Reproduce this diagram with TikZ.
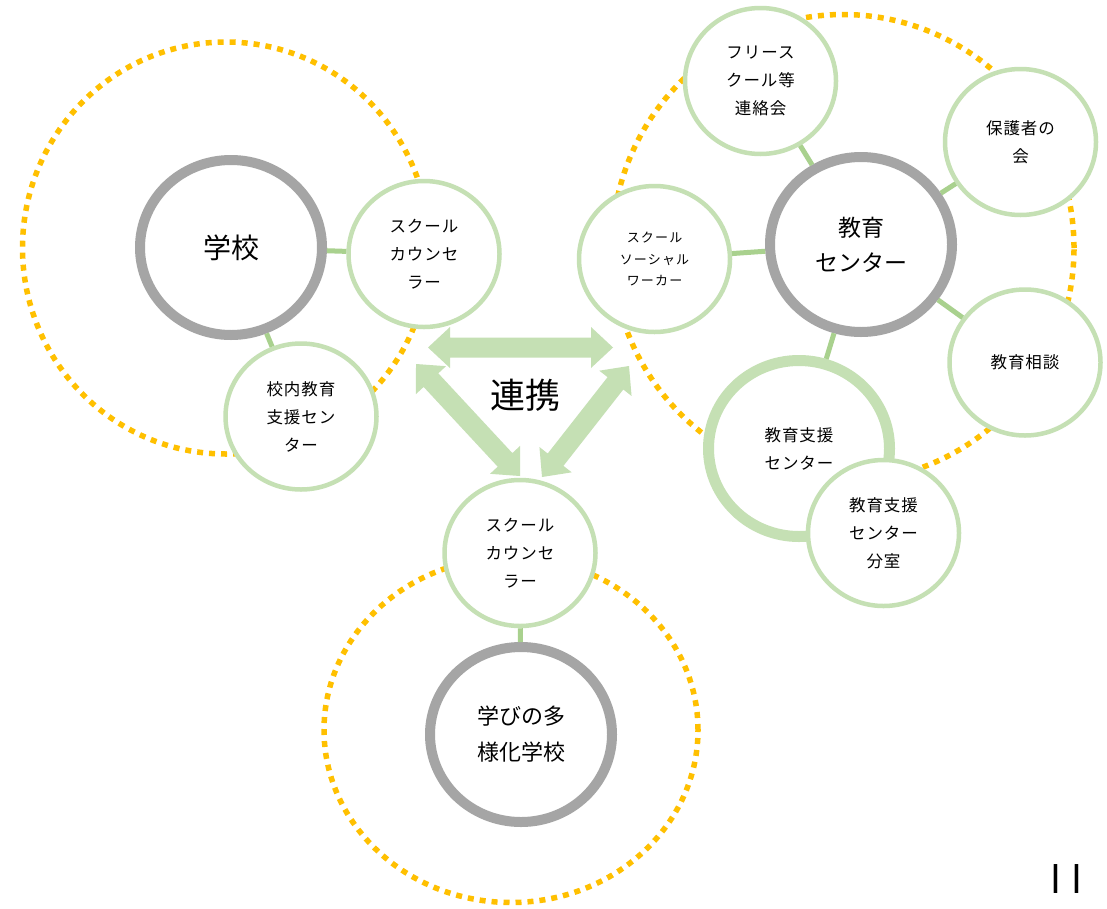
\documentclass[tikz,border=0pt]{standalone}
\usepackage{fontspec}
\setmainfont{Noto Sans CJK JP}
\newfontfamily\jpsp[LetterSpace=6]{Noto Sans CJK JP}
\newfontfamily\jpssw[LetterSpace=9]{Noto Sans CJK JP}
\newfontfamily\pagefont{Liberation Sans}
\usetikzlibrary{shapes.geometric,calc}
\pgfdeclarelayer{bg}
\pgfsetlayers{bg,main}
\definecolor{dotorange}{HTML}{FFC000}
\definecolor{ringgreen}{HTML}{C5E0B4}
\definecolor{linkgreen}{HTML}{A9D18E}
\definecolor{coregray}{HTML}{A5A5A5}
\newcommand{\dblarrow}[2]{%
  \coordinate (#1h) at ($(#1)!22pt!(#2)$);
  \coordinate (#2h) at ($(#2)!22pt!(#1)$);
  \fill[ringgreen] (#1)
    -- ($(#1h)!20.5pt!90:(#2)$) -- ($(#1h)!10pt!90:(#2)$)
    -- ($(#2h)!10pt!-90:(#1)$) -- ($(#2h)!20.5pt!-90:(#1)$)
    -- (#2)
    -- ($(#2h)!20.5pt!90:(#1)$) -- ($(#2h)!10pt!90:(#1)$)
    -- ($(#1h)!10pt!-90:(#2)$) -- ($(#1h)!20.5pt!-90:(#2)$)
    -- cycle;}
\begin{document}
\begin{tikzpicture}[x=1pt,y=-1pt,
  ring/.style={ellipse, draw=ringgreen, fill=white, line width=4.5pt, inner sep=0pt,
    minimum width=151pt, minimum height=146pt, align=center,
    font=\jpsp\fontsize{16.5}{28}\selectfont},
  core/.style={ellipse, draw=coregray, fill=white, line width=10pt, inner sep=0pt,
    minimum width=182pt, minimum height=175pt, align=center},
  zone/.style={ellipse, draw=dotorange, line width=5.5pt, dash pattern=on 6pt off 6pt,
    inner sep=0pt},
  link/.style={draw=linkgreen, line width=5pt}]
\useasboundingbox (0,0) rectangle (1107,908);
\begin{pgfonlayer}{bg}
  \fill[white] (0,0) rectangle (1107,908);
  \node[zone, minimum width=407pt, minimum height=412pt] (zoneL) at (226,248) {};
  \node[zone, minimum width=462pt, minimum height=467pt] (zoneR) at (843,248) {};
  \node[zone, minimum width=374pt, minimum height=345pt] (zoneB) at (511,730) {};
\end{pgfonlayer}

% left group
\node[core, font=\fontsize{28}{34}\selectfont] (school) at (231,247.5) {学校};
\node[ring] (cslL) at (424,254) {スクール\\カウンセ\\ラー};
\node[ring] (inner) at (301,416.5) {校内教育\\支援セン\\ター};

% right group
\node[core, font=\fontsize{23}{35}\selectfont] (educ) at (861,244.5) {教育\\センター};
\node[ring] (free) at (760.5,81) {フリース\\クール等\\連絡会};
\node[ring] (parents) at (1020.5,142) {保護者の\\会};
\node[ring, font=\jpssw\fontsize{13}{21.5}\selectfont] (ssw) at (654.5,259) {スクール\\ソーシャル\\ワーカー};
\node[ring] (consult) at (1025,362.5) {教育相談};
\node[ring, line width=11pt, minimum width=181pt, minimum height=176pt] (support) at (799,448.5) {教育支援\\センター};
\node[ring] (branch) at (883.5,533) {教育支援\\センター\\分室};

% bottom group
\node[ring] (cslB) at (520,553) {スクール\\カウンセ\\ラー};
\node[core, font=\fontsize{22}{36}\selectfont] (diverse) at (521,734.5) {学びの多\\様化学校};

% connectors
\draw[link] (school) -- (cslL);
\draw[link] (school) -- (inner);
\draw[link] (educ) -- (free);
\draw[link] (educ) -- (parents);
\draw[link] (educ) -- (ssw);
\draw[link] (educ) -- (consult);
\draw[link] (educ) -- (support);
\draw[link] (cslB) -- (diverse);

% cooperation arrows
\coordinate (aL) at (428,347.5);
\coordinate (aR) at (613,347.5);
\coordinate (bU) at (416,364);
\coordinate (bD) at (520,476);
\coordinate (cU) at (629,366);
\coordinate (cD) at (542,477);
\dblarrow{aL}{aR}
\dblarrow{bU}{bD}
\dblarrow{cU}{cD}
\node[font=\fontsize{35}{40}\selectfont] (coop) at (525,395) {連携};

\node[font=\pagefont\fontsize{40}{40}\selectfont] (page) at (1066,879) {l\hspace{12pt}l};
\end{tikzpicture}
\end{document}
